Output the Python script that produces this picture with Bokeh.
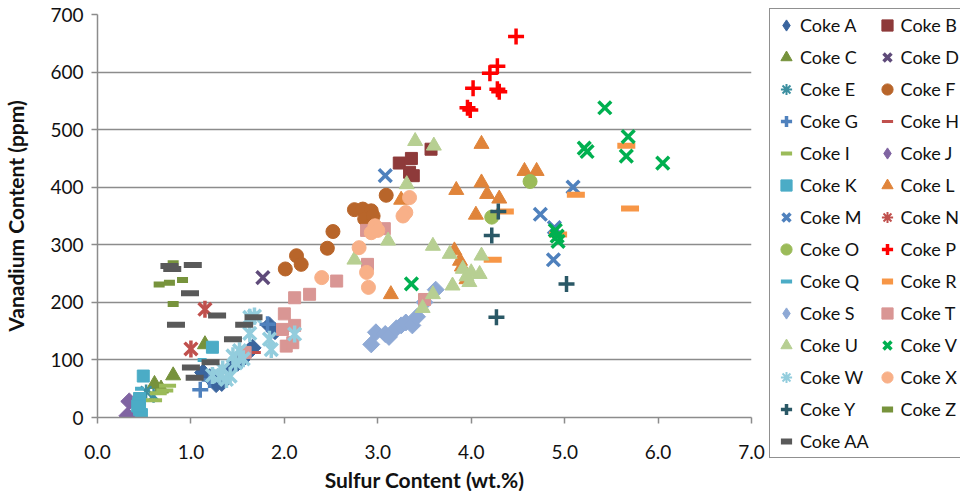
import math
from bokeh.plotting import figure
from bokeh.models import Legend, LegendItem, SingleIntervalTicker, Range1d, NumeralTickFormatter
from bokeh.embed import file_html
from bokeh.resources import INLINE

# ---------------- data (sulfur wt.%, vanadium ppm) ----------------
names = ["Coke A", "Coke B", "Coke C", "Coke D", "Coke E", "Coke F", "Coke G", "Coke H",
         "Coke I", "Coke J", "Coke K", "Coke L", "Coke M", "Coke N", "Coke O", "Coke P",
         "Coke Q", "Coke R", "Coke S", "Coke T", "Coke U", "Coke V", "Coke W", "Coke X",
         "Coke Y", "Coke Z", "Coke AA"]

a_x = [1.13, 1.20, 1.27, 1.33, 1.41, 1.50, 1.54, 1.62, 1.66, 1.84, 1.90]
a_y = [78, 70, 58, 60, 84, 95, 100, 115, 121, 160, 150]
b_x = [3.57, 3.36, 3.23, 3.34, 3.38]
b_y = [466, 450, 442, 426, 420]
c_x = [0.61, 0.68, 0.81, 1.15]
c_y = [58, 50, 73, 127]
d_x = [1.77]
d_y = [243]
e_x = [0.52, 0.60]
e_y = [45, 38]
f_x = [3.09, 2.75, 2.84, 2.93, 2.86, 2.52, 2.46, 2.13, 2.18, 2.01, 2.95]
f_y = [386, 361, 362, 359, 345, 323, 294, 281, 266, 258, 350]
g_x = [1.10, 1.20, 1.82]
g_y = [48, 65, 162]
h_x = [1.70, 1.55]
h_y = [113, 105]
i_x = [0.60, 0.65, 0.72, 0.75]
i_y = [30, 42, 47, 55]
j_x = [0.32, 0.34]
j_y = [3, 28]
k_x = [0.49, 0.45, 0.44, 0.45, 0.47, 0.43, 1.23]
k_y = [72, 33, 25, 14, 5, 20, 122]
l_x = [3.14, 3.25, 3.84, 3.82, 3.88, 3.90, 4.05, 4.11, 4.11, 4.17, 4.30, 4.57, 4.70, 3.95]
l_y = [214, 378, 395, 290, 272, 262, 352, 475, 408, 388, 380, 428, 428, 240]
m_x = [3.08, 4.74, 4.89, 4.88, 5.09]
m_y = [420, 353, 330, 274, 400]
n_x = [1.15, 1.00]
n_y = [188, 119]
o_x = [4.63, 4.22]
o_y = [410, 348]
p_x = [4.48, 4.28, 4.20, 4.02, 4.28, 4.30, 3.96, 3.99]
p_y = [662, 610, 598, 572, 570, 566, 538, 534]
q_x = [1.12, 0.45]
q_y = [100, 50]
r_x = [5.66, 5.12, 5.70, 4.36, 4.23, 4.93]
r_y = [472, 387, 363, 358, 274, 318]
s_x = [2.93, 2.98, 3.08, 3.12, 3.20, 3.25, 3.30, 3.37, 3.42, 3.50, 3.62]
s_y = [127, 148, 145, 140, 155, 160, 165, 160, 175, 200, 222]
t_x = [3.07, 2.88, 2.89, 2.56, 2.27, 2.11, 2.00, 2.11, 1.98, 2.02, 3.50, 2.09, 1.58]
t_y = [328, 325, 266, 237, 214, 208, 180, 160, 153, 124, 205, 130, 113]
u_x = [3.40, 3.60, 3.31, 3.11, 2.75, 3.59, 3.77, 4.11, 3.91, 4.00, 4.09, 3.98, 3.80, 3.59, 3.48, 3.95]
u_y = [480, 472, 405, 307, 274, 298, 284, 281, 258, 252, 249, 235, 229, 214, 190, 245]
v_x = [5.43, 5.68, 5.21, 5.24, 5.66, 6.05, 4.90, 4.93, 3.36, 4.92]
v_y = [538, 488, 468, 462, 454, 442, 325, 306, 232, 315]
w_x = [1.63, 1.68, 1.63, 1.84, 1.86, 2.11, 1.52, 1.56, 1.45, 1.34, 1.38, 1.23, 1.31, 1.42, 1.48]
w_y = [174, 176, 146, 136, 118, 145, 116, 102, 107, 84, 66, 73, 72, 72, 95]
x_x = [3.34, 3.30, 3.27, 2.97, 2.93, 2.80, 2.88, 2.90, 2.40, 3.00]
x_y = [382, 356, 350, 333, 321, 295, 252, 226, 243, 325]
y_x = [4.29, 4.22, 5.02, 4.27]
y_y = [358, 316, 232, 174]
z_x = [0.81, 0.66, 0.77, 0.91, 0.81]
z_y = [268, 231, 234, 239, 197]
aa_x = [0.77, 0.80, 1.02, 0.99, 0.84, 1.28, 1.57, 1.67, 1.45, 1.00, 1.04, 1.21]
aa_y = [263, 258, 265, 216, 161, 177, 161, 174, 136, 87, 69, 96]

xs = [a_x, b_x, c_x, d_x, e_x, f_x, g_x, h_x, i_x, j_x, k_x, l_x, m_x, n_x,
      o_x, p_x, q_x, r_x, s_x, t_x, u_x, v_x, w_x, x_x, y_x, z_x, aa_x]
ys = [a_y, b_y, c_y, d_y, e_y, f_y, g_y, h_y, i_y, j_y, k_y, l_y, m_y, n_y,
      o_y, p_y, q_y, r_y, s_y, t_y, u_y, v_y, w_y, x_y, y_y, z_y, aa_y]

x_ticks = [0, 1, 2, 3, 4, 5, 6, 7]
y_ticks = [0, 100, 200, 300, 400, 500, 600, 700]

# ---------------- styles ----------------
D = math.pi / 4
NAN = float("nan")
styles = [
    ("diamond", "#3A659E", 12, 1),
    ("square", "#8E3A3A", 12, 1),
    ("triangle", "#76923C", 15, 1),
    ("x", "#5F4B7A", 18, 3.5),
    ("star", "#3C8FA0", 15, 2.5),
    ("circle", "#B8652A", 14, 1),
    ("cross", "#4F81BD", 16, 3.5),
    ("dash", "#C0504D", 9, 3),
    ("dash", "#9BBB59", 17, 4),
    ("diamond", "#8064A2", 12, 1),
    ("square", "#4BACC6", 12, 1),
    ("triangle", "#E0843A", 15, 1),
    ("x", "#4F81BD", 18, 3.5),
    ("star", "#C0504D", 18, 3.5),
    ("circle", "#9BBB59", 14, 1),
    ("cross", "#FF0000", 16, 3.5),
    ("dash", "#4BACC6", 9, 4),
    ("dash", "#F79646", 18, 6),
    ("diamond", "#8EA9D5", 12, 1),
    ("square", "#D99694", 12, 1),
    ("triangle", "#B7CF92", 15, 1),
    ("x", "#00B050", 18, 3.5),
    ("star", "#93CDDD", 18, 3.5),
    ("circle", "#F8B088", 14, 1),
    ("cross", "#2A5866", 16, 3.5),
    ("dash", "#77933C", 11, 6),
    ("dash", "#595959", 18, 6),
]

FONT = "Lato"

p = figure(frame_width=654, frame_height=403, output_backend="svg", toolbar_location=None,
           x_range=Range1d(0, 7), y_range=Range1d(0, 700),
           min_border_left=90, min_border_right=0, min_border_top=14, min_border_bottom=66)
p.outline_line_color = None
p.background_fill_color = "white"

items = []
for name, xv, yv, (mk, col, sz, lw) in zip(names, xs, ys, styles):
    rs = []
    if mk == "diamond":
        p.scatter(xv, yv, marker="square", angle=D, size=sz, fill_color=col, line_color=col, line_width=lw)
        # legend proxy (legend markers are drawn unrotated); NaN point is never drawn in the plot
        rs.append(p.scatter([NAN], [NAN], marker="diamond", size=sz, fill_color=col, line_color=col, line_width=lw))
    elif mk == "star":
        p.scatter(xv, yv, marker="x", size=sz, line_color=col, line_width=lw)
        p.scatter(xv, yv, marker="dash", angle=math.pi / 2, size=sz * 0.95, line_color=col, line_width=lw)
        rs.append(p.scatter([NAN], [NAN], marker="asterisk", size=sz, line_color=col, line_width=2))
    elif mk in ("x", "cross"):
        rs.append(p.scatter(xv, yv, marker=mk, size=sz, line_color=col, line_width=lw))
    elif mk == "dash":
        rs.append(p.scatter(xv, yv, marker="dash", size=sz, line_color=col, line_width=lw, line_cap="butt"))
    else:
        rs.append(p.scatter(xv, yv, marker=mk, size=sz, fill_color=col, line_color=col, line_width=lw))
    items.append(LegendItem(label=name, renderers=rs))

# column-major legend: first column A, C, E, ..., second column B, D, F, ...
legend_items = items[0::2] + items[1::2]

# axes
GRID = "#8C8C8C"
p.xaxis.ticker = SingleIntervalTicker(interval=1)
p.yaxis.ticker = SingleIntervalTicker(interval=100)
p.xaxis.formatter = NumeralTickFormatter(format="0.0")
for ax in (p.xaxis, p.yaxis):
    ax.axis_line_color = GRID
    ax.axis_line_width = 1.5
    ax.major_tick_line_color = GRID
    ax.major_tick_line_width = 1.5
    ax.major_tick_out = 6
    ax.major_tick_in = 0
    ax.minor_tick_line_color = None
    ax.major_label_text_font = FONT
    ax.major_label_text_font_size = "19px"
    ax.major_label_text_color = "#111111"
    ax.axis_label_text_font = FONT
    ax.axis_label_text_font_style = "bold"
    ax.axis_label_text_font_size = "21px"
    ax.axis_label_text_color = "#111111"
p.xaxis.axis_label = "Sulfur Content (wt.%)"
p.yaxis.axis_label = "Vanadium Content (ppm)"
p.xaxis.major_label_standoff = 21
p.yaxis.major_label_standoff = 8
p.xaxis.axis_label_standoff = 5
p.yaxis.axis_label_standoff = 19

p.xgrid.grid_line_color = None
p.ygrid.grid_line_color = GRID
p.ygrid.grid_line_width = 1.5

legend = Legend(items=legend_items, orientation="vertical", ncols=2, location=(18, -41),
                margin=0, padding=2, spacing=4,
                glyph_width=28, glyph_height=28, label_height=28, label_standoff=-8,
                label_text_font=FONT, label_text_font_size="18px", label_text_color="#111111",
                border_line_color="#222222", border_line_width=1.5,
                background_fill_color="white", background_fill_alpha=1)
p.add_layout(legend, "right")

open("out.html", "w").write(file_html(p, INLINE))
